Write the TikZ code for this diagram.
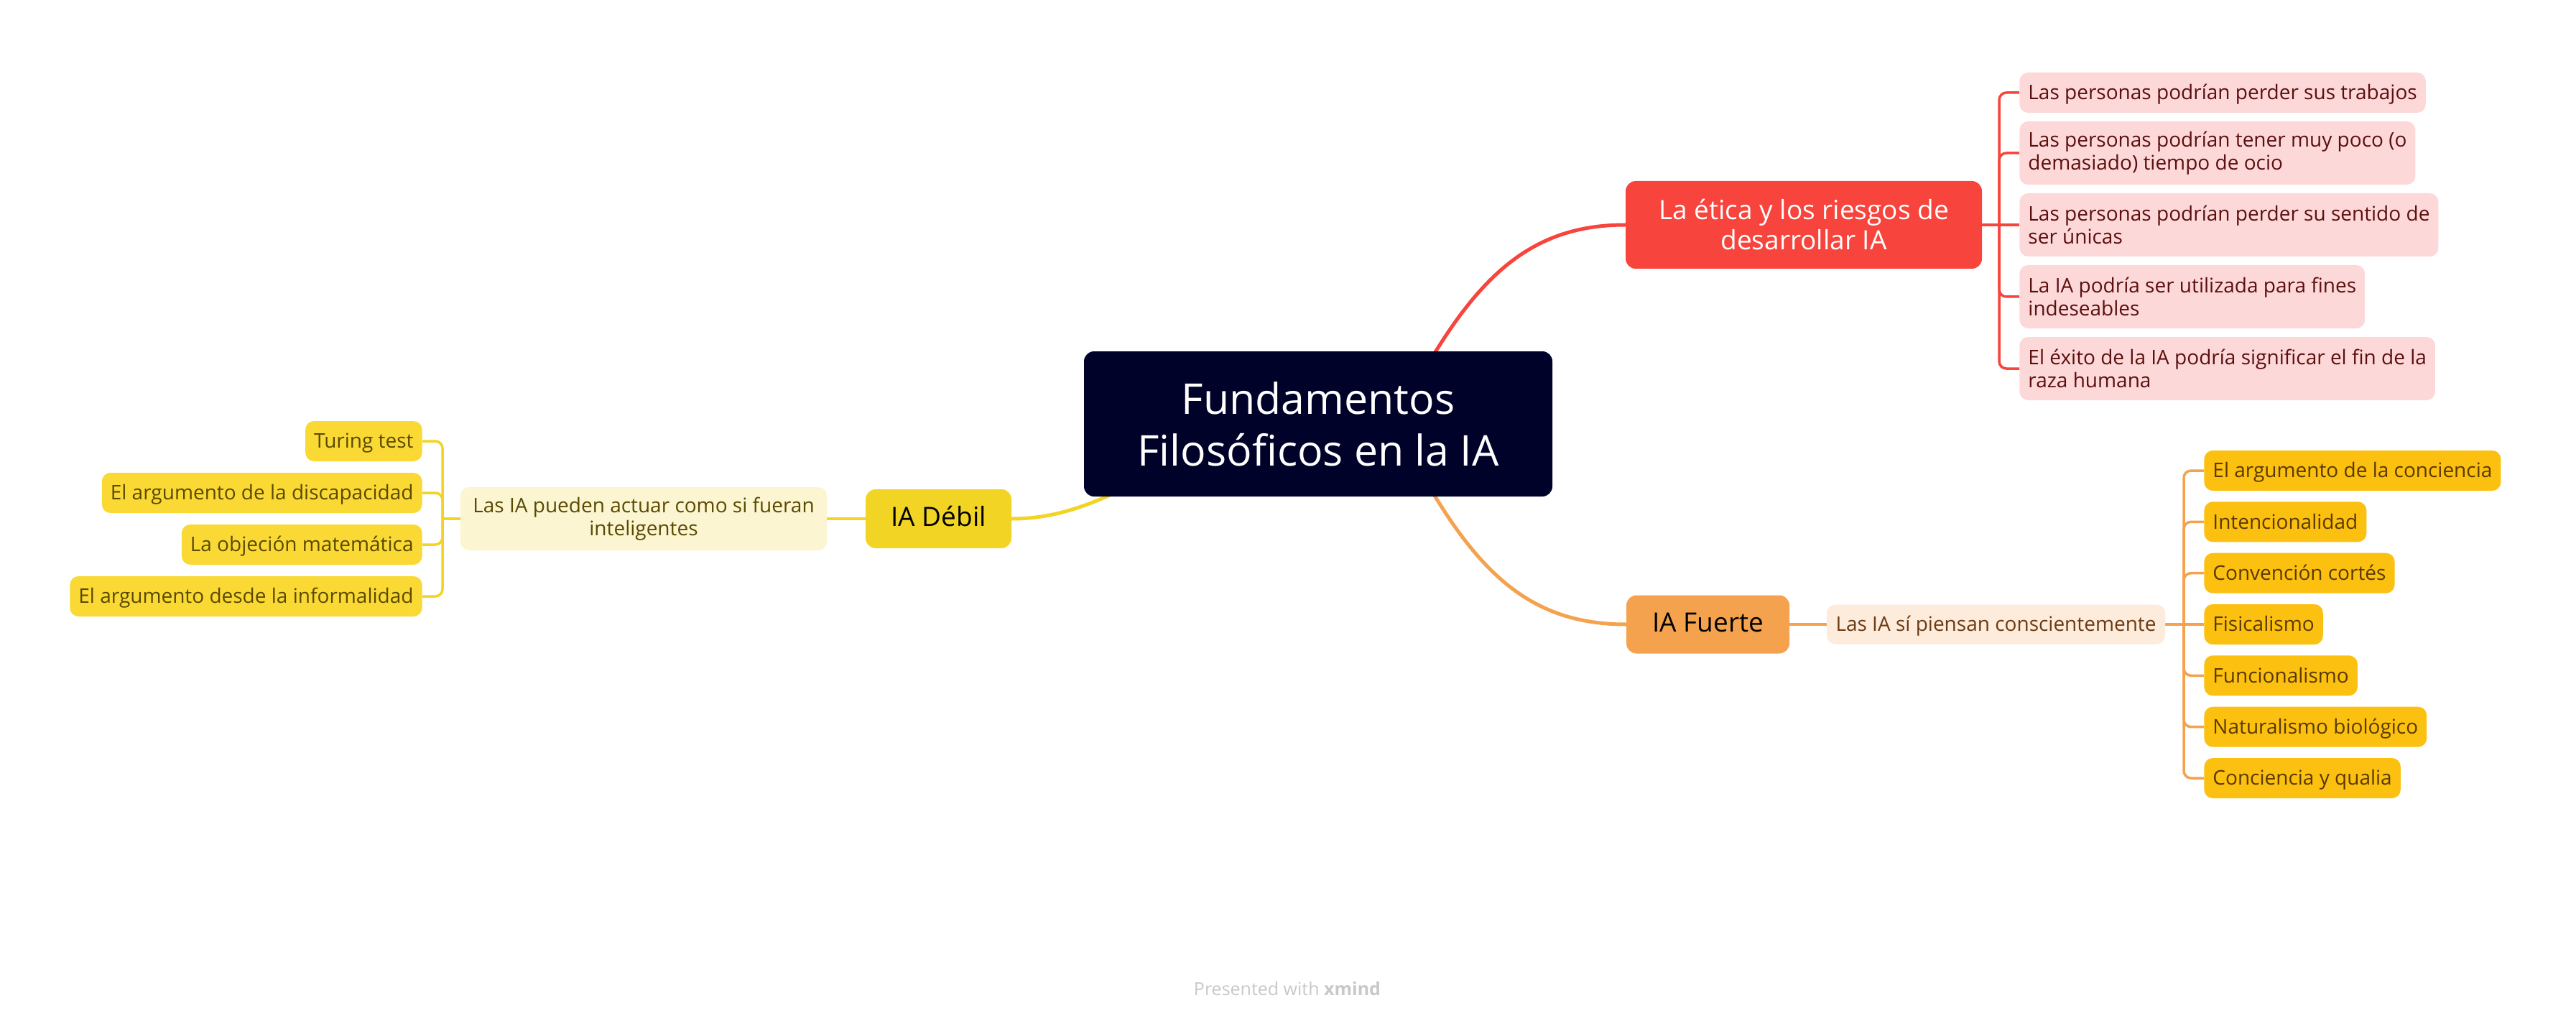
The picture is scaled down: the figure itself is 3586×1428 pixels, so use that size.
\documentclass[tikz,border=0pt]{standalone}
\usepackage{fontspec}
\setmainfont{Open Sans}
\usetikzlibrary{backgrounds}
\definecolor{navy}{HTML}{000229}
\definecolor{ered}{HTML}{F7443C}
\definecolor{epink}{HTML}{FDD8D8}
\definecolor{etext}{HTML}{5C0F0F}
\definecolor{forange}{HTML}{F5A24F}
\definecolor{fsub}{HTML}{FDEBDC}
\definecolor{fsubtext}{HTML}{6B3A12}
\definecolor{fleaf}{HTML}{FCC010}
\definecolor{fleaftext}{HTML}{5A3A00}
\definecolor{dyellow}{HTML}{F2D424}
\definecolor{dsub}{HTML}{FCF5D2}
\definecolor{dsubtext}{HTML}{5A4A00}
\definecolor{dleaf}{HTML}{FBD935}
\definecolor{footgray}{HTML}{C8C8C8}
\begin{document}
\begin{tikzpicture}[x=0.5pt,y=-0.5pt,
  mainbox/.style={rounded corners=7pt, inner sep=0pt, align=center},
  topicbox/.style={rounded corners=7pt, inner sep=0pt, font=\fontsize{18.5}{21}\selectfont},
  small/.style={font=\fontsize{14}{16}\selectfont},
  leaf/.style={small, rounded corners=6pt, inner xsep=6pt, inner ysep=0pt},
  one/.style={minimum height=28pt, text height=12pt, text depth=2.2pt},
  two/.style={minimum height=44pt, align=left},
  eleaf/.style={leaf, fill=epink, text=etext, anchor=west},
  fleafst/.style={leaf, one, fill=fleaf, text=fleaftext, anchor=west},
  dleafst/.style={leaf, one, fill=dleaf, text=dsubtext, anchor=east},
  thick line/.style={line width=2.5pt, line cap=round},
  thin line/.style={line width=1.75pt, rounded corners=5pt}
]
\useasboundingbox (0,0) rectangle (3586,1428);

% central
\node[mainbox, fill=navy, text=white, minimum width=326pt, minimum height=101pt,
      font=\fontsize{29.5}{36}\selectfont] (c) at (1835,590) {Fundamentos\\Filosóficos en la IA};

% ethics branch
\node[topicbox, align=center, fill=ered, text=white, minimum width=248pt, minimum height=61pt] (e) at (2511,313) {La ética y los riesgos de\\desarrollar IA};
\node[eleaf, one] (e1) at (2811,129) {Las personas podrían perder sus trabajos};
\node[eleaf, two] (e2) at (2811,213) {Las personas podrían tener muy poco (o\\demasiado) tiempo de ocio};
\node[eleaf, two] (e3) at (2811,313) {Las personas podrían perder su sentido de\\ser únicas};
\node[eleaf, two] (e4) at (2811,413) {La IA podría ser utilizada para fines\\indeseables};
\node[eleaf, two] (e5) at (2811,513) {El éxito de la IA podría significar el fin de la\\raza humana};
\coordinate (et) at (2783,313);

% strong AI branch
\node[topicbox, fill=forange, text=black, minimum width=113.5pt, minimum height=40.5pt, text height=13pt, text depth=3pt] (f) at (2377.5,869) {IA Fuerte};
\node[small, rounded corners=6pt, inner sep=0pt, fill=fsub, text=fsubtext, minimum width=235.5pt, minimum height=27.5pt, text height=12pt, text depth=2.2pt] (fs) at (2778.5,869) {Las IA sí piensan conscientemente};
\node[fleafst] (f1) at (3068,655) {El argumento de la conciencia};
\node[fleafst] (f2) at (3068,726.3) {Intencionalidad};
\node[fleafst] (f3) at (3068,797.7) {Convención cortés};
\node[fleafst] (f4) at (3068,869) {Fisicalismo};
\node[fleafst] (f5) at (3068,940.3) {Funcionalismo};
\node[fleafst] (f6) at (3068,1011.7) {Naturalismo biológico};
\node[fleafst] (f7) at (3068,1083) {Conciencia y qualia};
\coordinate (ftr) at (3040,869);

% weak AI branch
\node[topicbox, fill=dyellow, text=black, minimum width=101.5pt, minimum height=41pt, text height=13pt, text depth=3pt] (d) at (1306.5,722) {IA Débil};
\node[small, rounded corners=6pt, inner sep=0pt, align=center, fill=dsub, text=dsubtext, minimum width=255pt, minimum height=44pt] (ds) at (896,722) {Las IA pueden actuar como si fueran\\inteligentes};
\node[dleafst] (d1) at (588,614) {Turing test};
\node[dleafst] (d2) at (588,686) {El argumento de la discapacidad};
\node[dleafst] (d3) at (588,758) {La objeción matemática};
\node[dleafst] (d4) at (588,830) {El argumento desde la informalidad};
\coordinate (dtr) at (616,722);

% footer
\node[text=footgray, font=\fontsize{12.5}{15}\selectfont, anchor=base, inner sep=0pt] (foot) at (1792,1385) {Presented with \textbf{xmind}};

\begin{scope}[on background layer]
  \fill[white] (0,0) rectangle (3586,1428);
  % main connectors
  \draw[thick line, ered] (c.center) -- (1975,529) .. controls (2056,386) and (2130,313) .. (e.west);
  \draw[thick line, forange] (c.center) -- (1975,652) .. controls (2056,797) and (2130,869) .. (f.west);
  \draw[thick line, dyellow] (c.center) -- (1560,682) .. controls (1500,711) and (1455,722) .. (d.east);
  % ethics
  \draw[thin line, ered] (e.east) -- (e3.west);
  \foreach \n in {e1,e2,e4,e5} \draw[thin line, ered] (et) |- (\n.west);
  % strong
  \draw[thin line, forange] (f.east) -- (fs.west);
  \draw[thin line, forange] (fs.east) -- (f4.west);
  \foreach \n in {f1,f2,f3,f5,f6,f7} \draw[thin line, forange] (ftr) |- (\n.west);
  % weak
  \draw[thin line, dyellow] (d.west) -- (ds.east);
  \draw[thin line, dyellow] (ds.west) -- (dtr);
  \foreach \n in {d1,d2,d3,d4} \draw[thin line, dyellow] (dtr) |- (\n.east);
\end{scope}
\end{tikzpicture}
\end{document}
